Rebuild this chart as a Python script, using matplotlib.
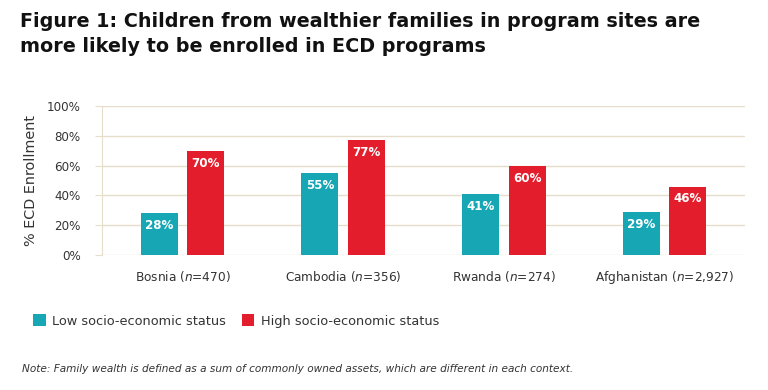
import matplotlib as mpl
mpl.use('Agg')
import matplotlib.pyplot as plt
import numpy as np

countries = ['Bosnia', 'Cambodia', 'Rwanda', 'Afghanistan']
sample_n = ['470', '356', '274', '2,927']
low_ses = [28, 55, 41, 29]
high_ses = [70, 77, 60, 46]
series_names = ['Low socio-economic status', 'High socio-economic status']

teal = '#17A6B4'
red = '#E31D2B'
grid_col = '#E6DECA'
text_col = '#333333'

plt.rcParams['font.family'] = ['DejaVu Sans']
plt.rcParams['mathtext.fontset'] = 'dejavusans'

fig = plt.figure(figsize=(7.68, 3.9), dpi=100)
ax = fig.add_axes([0.133, 0.346, 0.837, 0.382])

x = np.arange(len(countries))
w = 0.23
off = 0.145
b1 = ax.bar(x - off, low_ses, w, color=teal, label=series_names[0], zorder=3)
b2 = ax.bar(x + off, high_ses, w, color=red, label=series_names[1], zorder=3)

for bars, vals in [(b1, low_ses), (b2, high_ses)]:
    for b, v in zip(bars, vals):
        ax.text(b.get_x() + b.get_width() / 2, v - 4, '%d%%' % v,
                ha='center', va='top', color='white', fontsize=8.6,
                fontweight='bold', zorder=4)

ax.set_xlim(-0.5, len(countries) - 0.5)
ax.set_ylim(0, 100)
ax.set_yticks(np.arange(0, 101, 20))
ax.set_yticklabels(['%d%%' % t for t in range(0, 101, 20)])
ax.set_xticks(x)
ax.set_xticklabels(['%s ($n$=%s)' % (c, n) for c, n in zip(countries, sample_n)])
ax.tick_params(axis='y', length=5, color=grid_col, labelsize=8.6, labelcolor=text_col, pad=10.5)
ax.tick_params(axis='x', length=0, labelsize=8.7, labelcolor=text_col, pad=10)
ax.grid(axis='y', color=grid_col, lw=1, zorder=0)
for s in ['top', 'right', 'bottom']:
    ax.spines[s].set_visible(False)
ax.spines['left'].set_color(grid_col)
ax.set_ylabel('% ECD Enrollment', fontsize=10.4, color=text_col, labelpad=6)

fig.text(0.026, 0.968, 'Figure 1: Children from wealthier families in program sites are\n'
         'more likely to be enrolled in ECD programs',
         ha='left', va='top', fontsize=13.8, fontweight='bold', color='#111111',
         linespacing=1.36)

fig.legend(loc='center left', bbox_to_anchor=(0.043, 0.177), ncol=2, frameon=False,
           fontsize=9.25, handlelength=1.0, handleheight=1.0, handletextpad=0.5,
           columnspacing=1.2, labelcolor=text_col, borderaxespad=0, borderpad=0)

fig.text(0.029, 0.054, 'Note: Family wealth is defined as a sum of commonly owned assets, '
         'which are different in each context.',
         ha='left', va='center', fontsize=7.55, style='italic', color=text_col)

fig.savefig('out.png', dpi=100)
